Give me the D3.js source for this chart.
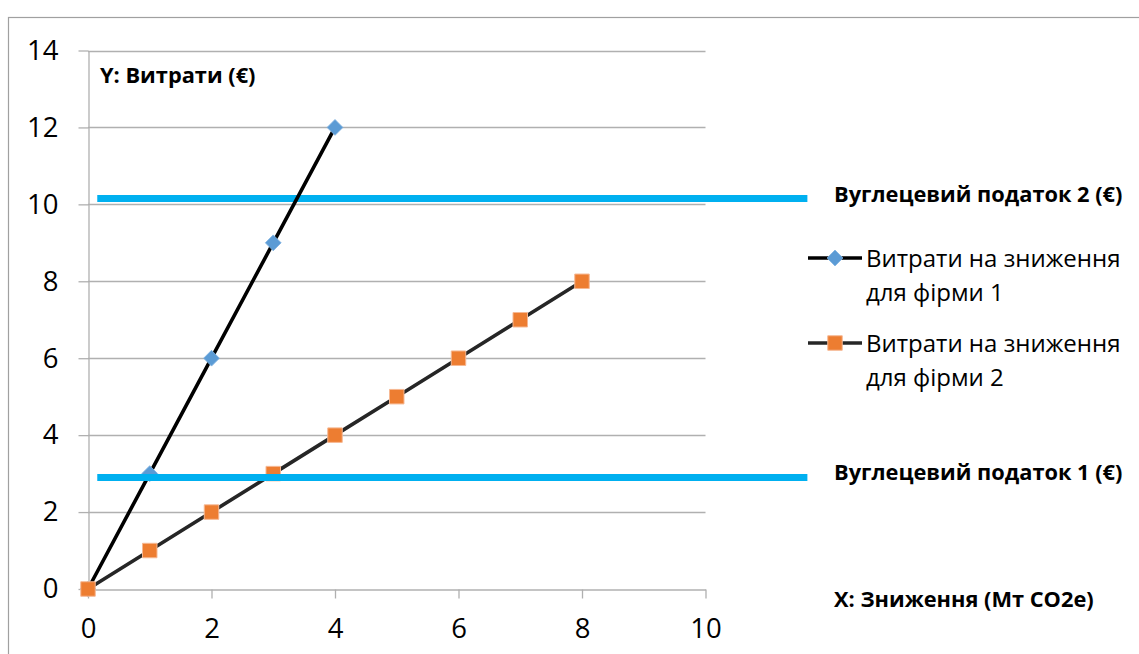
<!DOCTYPE html>
<html>
<head>
<meta charset="utf-8">
<script src="https://cdn.jsdelivr.net/npm/d3@7"></script>
<style>
  html, body { margin: 0; padding: 0; background: #fff; }
  svg { display: block; font-family: "Open Sans", "Noto Sans", sans-serif; }
</style>
</head>
<body>
<svg id="chart" width="1139" height="654"></svg>
<script>
// Abatement (Mt CO2e) and abatement cost (€) for two firms
const firm1X = [0, 1, 2, 3, 4];
const firm1Cost = [0, 3, 6, 9, 12];
const firm2X = [0, 1, 2, 3, 4, 5, 6, 7, 8];
const firm2Cost = [0, 1, 2, 3, 4, 5, 6, 7, 8];

// Carbon tax levels drawn as horizontal lines
const taxX = [0.15, 11.65];
const tax1 = [2.9, 2.9];
const tax2 = [10.15, 10.15];
const taxLabels = ["Вуглецевий податок 1 (€)", "Вуглецевий податок 2 (€)"];

const xTicks = [0, 2, 4, 6, 8, 10];
const yTicks = [0, 2, 4, 6, 8, 10, 12, 14];

const seriesNames = ["Витрати на зниження для фірми 1", "Витрати на зниження для фірми 2"];
const axisTitleY = "Y: Витрати (€)";
const axisTitleX = "X: Зниження (Мт CO2e)";

const svg = d3.select("#chart");

const x = d3.scaleLinear().domain([0, 10]).range([88, 705.5]);
const y = d3.scaleLinear().domain([0, 14]).range([589, 50.5]);

const gridColor = "#b0b0b0";
const blue = "#5B9BD5", orange = "#ED7D31", taxColor = "#00B0F0";
const boldSize = 21.8;

// chart frame
svg.append("rect")
  .attr("x", 8.5).attr("y", 17.5)
  .attr("width", 1200).attr("height", 700)
  .attr("fill", "none").attr("stroke", "#a0a0a0").attr("stroke-width", 1.2);

// horizontal gridlines
svg.append("g").selectAll("line").data(yTicks.filter(d => d > 0)).join("line")
  .attr("x1", x(0)).attr("x2", x(10))
  .attr("y1", d => Math.round(y(d)) + 0.5).attr("y2", d => Math.round(y(d)) + 0.5)
  .attr("stroke", gridColor).attr("stroke-width", 1.3);

// x axis
const xAxis = svg.append("g")
  .attr("transform", `translate(0,${Math.round(y(0)) + 0.5})`)
  .call(d3.axisBottom(x).tickValues(xTicks).tickSize(9).tickSizeOuter(0).tickPadding(20));
xAxis.select(".domain").attr("stroke", gridColor).attr("stroke-width", 1.3);
xAxis.selectAll(".tick line").attr("stroke", gridColor).attr("stroke-width", 1.3);
xAxis.selectAll(".tick text")
  .attr("font-size", 27.5).attr("fill", "#000")
  .attr("font-family", "'Open Sans', sans-serif");

// y axis
const yAxis = svg.append("g")
  .attr("transform", `translate(${Math.round(x(0)) + 0.5},0)`)
  .call(d3.axisLeft(y).tickValues(yTicks).tickSize(10).tickSizeOuter(0).tickPadding(20));
yAxis.select(".domain").attr("stroke", gridColor).attr("stroke-width", 1.3);
yAxis.selectAll(".tick line").attr("stroke", gridColor).attr("stroke-width", 1.3);
yAxis.selectAll(".tick text")
  .attr("font-size", 27.5).attr("fill", "#000")
  .attr("font-family", "'Open Sans', sans-serif");

const line = d3.line().x(d => x(d[0])).y(d => y(d[1]));

// tax 2 line sits beneath the cost curves
svg.append("path")
  .datum(d3.zip(taxX, tax2))
  .attr("d", line).attr("fill", "none")
  .attr("stroke", taxColor).attr("stroke-width", 7);

// firm 1
svg.append("path")
  .datum(d3.zip(firm1X, firm1Cost))
  .attr("d", line).attr("fill", "none")
  .attr("stroke", "#000").attr("stroke-width", 3.6);

const diamond = d3.symbol().type(d3.symbolSquare).size(125);
svg.append("g").selectAll("path").data(d3.zip(firm1X, firm1Cost)).join("path")
  .attr("d", diamond)
  .attr("transform", d => `translate(${x(d[0])},${y(d[1])}) rotate(45)`)
  .attr("fill", blue).attr("stroke", "#7eb1e0").attr("stroke-width", 0.8);

// firm 2
svg.append("path")
  .datum(d3.zip(firm2X, firm2Cost))
  .attr("d", line).attr("fill", "none")
  .attr("stroke", "#262626").attr("stroke-width", 3.6);

const square = d3.symbol().type(d3.symbolSquare).size(210);
svg.append("g").selectAll("path").data(d3.zip(firm2X, firm2Cost)).join("path")
  .attr("d", square)
  .attr("transform", d => `translate(${x(d[0])},${y(d[1])})`)
  .attr("fill", orange).attr("stroke", "#f6b893").attr("stroke-width", 1);

// tax 1 line on top
svg.append("path")
  .datum(d3.zip(taxX, tax1))
  .attr("d", line).attr("fill", "none")
  .attr("stroke", taxColor).attr("stroke-width", 7);

// tax labels at the right end of each line
[tax1, tax2].forEach((t, i) => {
  svg.append("text")
    .attr("x", 834).attr("y", y(t[1]) + 3)
    .attr("font-size", boldSize).attr("font-weight", 700).attr("fill", "#000")
    .text(taxLabels[i]);
});

// axis titles
svg.append("text")
  .attr("x", 100).attr("y", 83)
  .attr("font-size", boldSize).attr("font-weight", 700).attr("fill", "#000")
  .text(axisTitleY);
svg.append("text")
  .attr("x", 834).attr("y", 607)
  .attr("font-size", boldSize).attr("font-weight", 700).attr("fill", "#000")
  .text(axisTitleX);

// legend
const legendItems = [
  { name: seriesNames[0], ly: 258, stroke: "#000", marker: "diamond" },
  { name: seriesNames[1], ly: 343, stroke: "#262626", marker: "square" }
];
legendItems.forEach(item => {
  const g = svg.append("g");
  g.append("line")
    .attr("x1", 808).attr("x2", 862).attr("y1", item.ly).attr("y2", item.ly)
    .attr("stroke", item.stroke).attr("stroke-width", 3.6);
  if (item.marker === "diamond") {
    g.append("path").attr("d", diamond)
      .attr("transform", `translate(835,${item.ly}) rotate(45)`)
      .attr("fill", blue).attr("stroke", "#7eb1e0").attr("stroke-width", 0.8);
  } else {
    g.append("path").attr("d", square)
      .attr("transform", `translate(835,${item.ly})`)
      .attr("fill", orange).attr("stroke", "#f6b893").attr("stroke-width", 1);
  }
  const words = item.name.split(" ");
  const first = words.slice(0, 3).join(" ");
  const second = words.slice(3).join(" ");
  const t = g.append("text")
    .attr("font-size", 24).attr("fill", "#000");
  t.append("tspan").attr("x", 866).attr("y", item.ly + 9).text(first);
  t.append("tspan").attr("x", 866).attr("y", item.ly + 43).text(second);
});
</script>
</body>
</html>
